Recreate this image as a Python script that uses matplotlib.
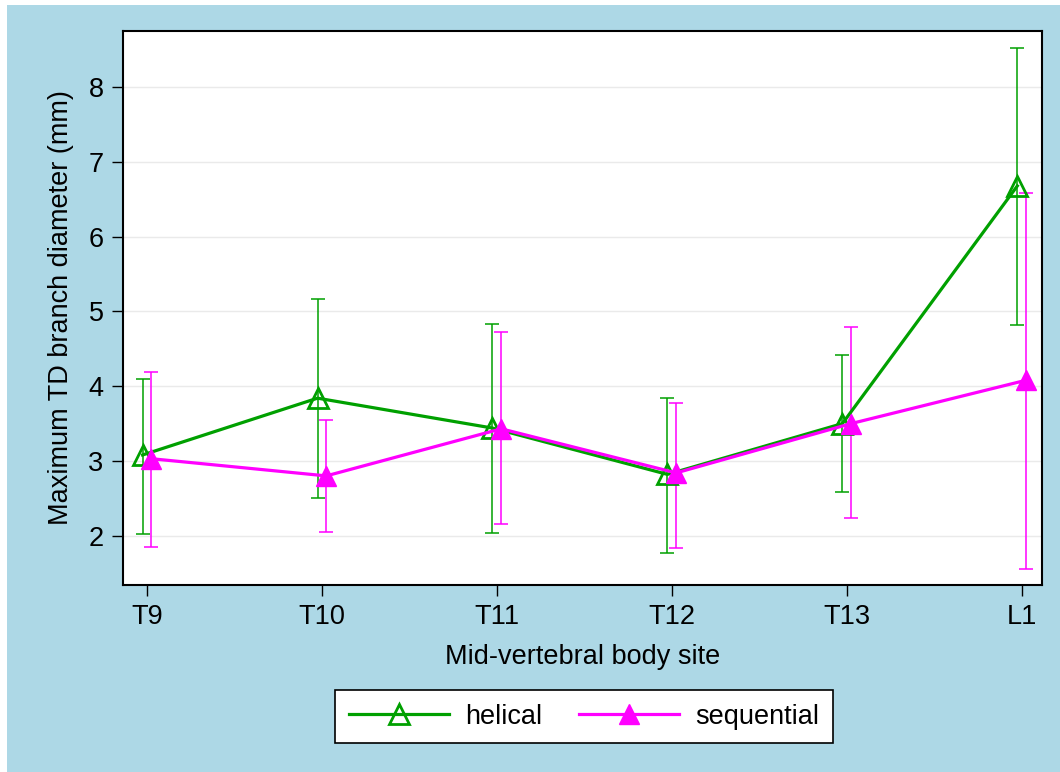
import matplotlib
matplotlib.use("Agg")
import matplotlib.pyplot as plt
import numpy as np
from matplotlib.patches import Rectangle

# Mid-vertebral body sites
sites = ["T9", "T10", "T11", "T12", "T13", "L1"]

# Maximum TD branch diameter (mm): means and confidence limits
helical_mean = [3.08, 3.84, 3.44, 2.82, 3.50, 6.68]
helical_lo = [2.02, 2.51, 2.04, 1.77, 2.58, 4.82]
helical_hi = [4.10, 5.17, 4.83, 3.84, 4.42, 8.52]

sequential_mean = [3.03, 2.80, 3.43, 2.84, 3.50, 4.08]
sequential_lo = [1.85, 2.05, 2.16, 1.84, 2.24, 1.56]
sequential_hi = [4.19, 3.55, 4.73, 3.78, 4.79, 6.59]

yticks = [2, 3, 4, 5, 6, 7, 8]

plt.rcParams["font.family"] = ["Liberation Sans", "DejaVu Sans"]

GREEN = "#00A000"
MAGENTA = "#FF00FF"
BG = "#ADD8E6"
FS = 19.5

fig = plt.figure(figsize=(10.6, 7.72), dpi=100, facecolor="white")
# light blue outer region
fig.patches.append(Rectangle((7 / 1060, 0), 1 - 7 / 1060, 1 - 5 / 772,
                             transform=fig.transFigure, facecolor=BG,
                             edgecolor="none", zorder=-10))

ax = fig.add_axes([123 / 1060, 1 - 585 / 772, (1042 - 123) / 1060, (585 - 31) / 772])
ax.set_facecolor("white")

x = np.arange(len(sites))
off = 0.025
xh = x - off
xs = x + off

def yerr(mean, lo, hi):
    m = np.asarray(mean)
    return [m - np.asarray(lo), np.asarray(hi) - m]

ax.errorbar(xh, helical_mean, yerr=yerr(helical_mean, helical_lo, helical_hi),
            fmt="none", ecolor=GREEN, elinewidth=1.1, capsize=4.8, capthick=1.1, zorder=2)
ax.errorbar(xs, sequential_mean, yerr=yerr(sequential_mean, sequential_lo, sequential_hi),
            fmt="none", ecolor=MAGENTA, elinewidth=1.1, capsize=4.8, capthick=1.1, zorder=2)

ax.plot(xh, helical_mean, color=GREEN, lw=2.3, marker="^", ms=14,
        mfc="none", mec=GREEN, mew=2.0, label="helical", zorder=3)
ax.plot(xs, sequential_mean, color=MAGENTA, lw=2.3, marker="^", ms=14,
        mfc=MAGENTA, mec=MAGENTA, label="sequential", zorder=4)

ax.set_xlim(-0.137, 5.116)
ax.set_ylim(1.34, 8.753)
ax.set_xticks(x)
ax.set_xticklabels(sites)
ax.set_yticks(yticks)
ax.set_yticklabels([str(v) for v in yticks])
ax.yaxis.grid(True, color="#EAEAEA", lw=1.0)
ax.set_axisbelow(True)
ax.tick_params(axis="both", labelsize=FS, length=8, width=1.0, color="black", pad=6)
for s in ax.spines.values():
    s.set_linewidth(1.5)
    s.set_color("black")

ax.set_xlabel("Mid-vertebral body site", fontsize=FS, labelpad=10)
ax.set_ylabel("Maximum TD branch diameter (mm)", fontsize=FS, labelpad=10)

leg = fig.legend(loc="center", bbox_to_anchor=(584 / 1060, 1 - 716.5 / 772),
                 ncol=2, fontsize=FS, frameon=True, fancybox=False,
                 edgecolor="black", framealpha=1, handlelength=3.7,
                 handletextpad=0.6, columnspacing=1.35, borderpad=0.5)
leg.get_frame().set_linewidth(1.2)

fig.savefig("out.png", dpi=100, facecolor=fig.get_facecolor())
